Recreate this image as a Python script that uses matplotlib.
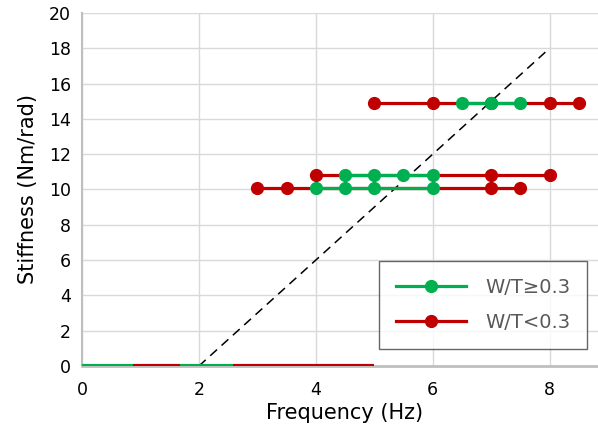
import matplotlib
matplotlib.use("Agg")
import matplotlib.pyplot as plt
from matplotlib.lines import Line2D

red = "#C00000"
green = "#00B050"

# stiffness rows (Nm/rad) and frequencies (Hz) of the points on each row
row_y = [14.9, 10.8, 10.1]
red_x = [[5, 6, 7, 8, 8.5], [4, 7, 8], [3, 3.5, 7, 7.5]]
green_x = [[6.5, 7, 7.5], [4.5, 5, 5.5, 6], [4, 4.5, 5, 6]]

# zero-stiffness ranges along the axis
zero_green = [(0, 0.87), (1.68, 2.58)]
zero_red = [(0.87, 1.68), (2.58, 5.0)]

# boundary line
bound_x = [2, 8]
bound_y = [0, 18]

fig = plt.figure(figsize=(5.98, 4.32), dpi=100)
ax = fig.add_axes([82 / 598, 1 - 366 / 432, 9 * 58.45 / 598, 353 / 432])

ax.plot(bound_x, bound_y, color="black", lw=1.1, ls=(0, (6, 4)), zorder=2)

for y, xs in zip(row_y, red_x):
    ax.plot(xs, [y] * len(xs), color=red, lw=2.3, marker="o", ms=8.5, zorder=3)
for y, xs in zip(row_y, green_x):
    ax.plot(xs, [y] * len(xs), color=green, lw=2.3, marker="o", ms=8.5, zorder=4)

for a, b in zero_red:
    ax.plot([a, b], [0, 0], color=red, lw=3, solid_capstyle="butt", zorder=3)
for a, b in zero_green:
    ax.plot([a, b], [0, 0], color=green, lw=3, solid_capstyle="butt", zorder=3)

ax.set_xlim(0, 9)
ax.set_ylim(0, 20)
ax.set_xticks([0, 2, 4, 6, 8])
ax.set_yticks(range(0, 21, 2))
ax.grid(True, color="#d9d9d9", lw=1)
ax.set_axisbelow(True)
for s in ["top", "right"]:
    ax.spines[s].set_visible(False)
ax.spines["left"].set_color("#bfbfbf")
ax.spines["left"].set_linewidth(1.5)
ax.spines["bottom"].set_color("#bfbfbf")
ax.spines["bottom"].set_linewidth(2)
ax.tick_params(length=0, labelsize=12.5, pad=8)
ax.tick_params(axis="x", pad=11)
ax.set_xlabel("Frequency (Hz)", fontsize=15, labelpad=3)
ax.set_ylabel("Stiffness (Nm/rad)", fontsize=15, labelpad=8)

handles = [Line2D([], [], color=green, lw=2.3, marker="o", ms=8.5),
           Line2D([], [], color=red, lw=2.3, marker="o", ms=8.5)]
leg = fig.legend(handles, ["W/T≥0.3", "W/T<0.3"],
                 loc="upper left", bbox_to_anchor=(379 / 598, 1 - 261 / 432),
                 fontsize=14, frameon=True, fancybox=False, edgecolor="#404040",
                 handlelength=3.6, labelspacing=0.85, borderpad=0.85,
                 handletextpad=1.0, borderaxespad=0)
leg.get_frame().set_linewidth(1)
for t in leg.get_texts():
    t.set_color("#595959")

fig.savefig("out.png", dpi=100)
